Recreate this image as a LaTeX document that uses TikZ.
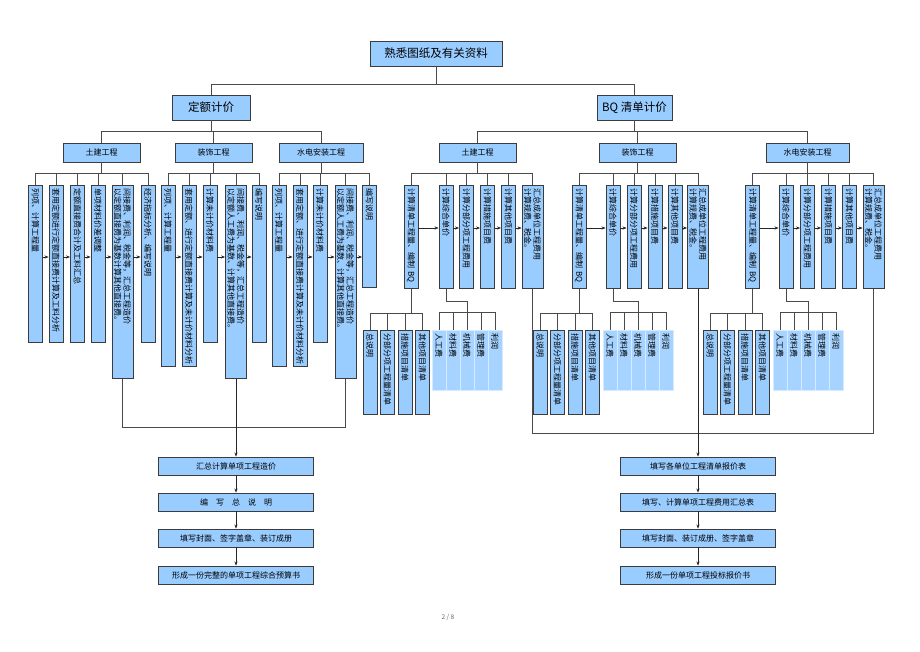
\documentclass[tikz,border=0pt]{standalone}
\usepackage{fontspec}
\setmainfont{Noto Sans CJK SC}
\usepackage{xcolor}
\usepackage{tikz}
\usetikzlibrary{arrows.meta,calc}
\definecolor{chartBlue}{HTML}{99CCFF}
\definecolor{chartBlueLight}{HTML}{A6D3FF}
\definecolor{chartEdge}{HTML}{3C3C3C}
\definecolor{chartLine}{HTML}{4A4A4A}
\tikzset{
  link/.style={draw=chartLine, line width=0.8pt},
  flow/.style={-{Stealth[length=4pt,width=3.2pt]}, line width=0.7pt, draw=black!85},
  head box/.style={draw=chartEdge, fill=chartBlue, line width=0.9pt,
    minimum height=25pt, inner sep=0pt, font=\fontsize{11.5}{13}\selectfont},
  group box/.style={draw=chartEdge, fill=chartBlue, line width=0.9pt,
    minimum height=19pt, inner sep=0pt, font=\fontsize{8}{9.5}\selectfont},
  final box/.style={group box, minimum width=155pt, minimum height=18pt},
  % rotated: west = top end, east = bottom end, north = right side, south = left side
  column/.style={draw=chartEdge, fill=chartBlue, line width=0.9pt, rotate=-90,
    anchor=west, align=left, minimum height=14pt, inner xsep=3pt,
    inner ysep=0pt, font=\fontsize{8}{9.5}\selectfont},
  wide column/.style={column, minimum height=21pt},
  cost cell/.style={column, fill=chartBlueLight, draw=chartBlueLight!45!white,
    line width=0.6pt}
}
\begin{document}
\begin{tikzpicture}[x=1pt,y=-1pt]
  \fill[white] (0,0) rectangle (920,651);
  \useasboundingbox (0,0) rectangle (920,651);

  \node[head box, minimum width=132pt] (know) at (436,53.5) {熟悉图纸及有关资料};
  \node[head box, minimum width=78pt] (quota) at (211,107.5) {定额计价};
  \node[head box, minimum width=75pt] (bq) at (634.5,107.5) {BQ 清单计价};
  \draw[link] (know.south) -- ++(0,18) -| (quota.north);
  \draw[link] (know.south) -- ++(0,18) -| (bq.north);

  \node[group box, minimum width=77pt] (qtj) at (101.5,152.5) {土建工程};
  \node[group box, minimum width=77pt] (qzs) at (213.5,152.5) {装饰工程};
  \node[group box, minimum width=84pt] (qsd) at (321,152.5) {水电安装工程};
  \node[group box, minimum width=77pt] (btj) at (477.5,152.5) {土建工程};
  \node[group box, minimum width=77pt] (bzs) at (637.5,152.5) {装饰工程};
  \node[group box, minimum width=83pt] (bsd) at (807.5,152.5) {水电安装工程};
  \foreach \g in {qtj,qzs,qsd} \draw[link] (quota.south) -- ++(0,11) -| (\g.north);
  \foreach \g in {btj,bzs,bsd} \draw[link] (bq.south) -- ++(0,11) -| (\g.north);

  % 定额计价
  \node[column, text width=151pt] (qtj1) at (35.5,185) {列项、计算工程量};
  \node[column, text width=151pt] (qtj2) at (56,185) {套用定额进行定额直接费计算及工料分析};
  \node[column, text width=151pt] (qtj3) at (77.5,185) {定额直接费合计及工料汇总};
  \node[column, text width=151pt] (qtj4) at (98,185) {单项材料价差调整};
  \node[wide column, text width=187pt] (qtj5) at (122.5,185)
    {间接费、利润、税金等，汇总工程造价\\以定额直接费为基数计算其他直接费。};
  \node[column, text width=151pt] (qtj6) at (148,185) {经济指标分析、编写说明};

  \node[column, text width=175pt] (qzs1) at (168,185) {列项、计算工程量};
  \node[column, text width=175pt] (qzs2) at (189,185) {套用定额、进行定额直接费计算及未计价材料分析};
  \node[column, text width=151pt] (qzs3) at (210,185) {计算未计价材料费};
  \node[wide column, text width=187pt] (qzs4) at (236,185)
    {间接费、利润、税金等，汇总工程造价\\以定额人工费为基数、计算其他直接费。};
  \node[column, text width=151pt] (qzs5) at (259,185) {编写说明};

  \node[column, text width=175pt] (qsd1) at (279,185) {列项、计算工程量};
  \node[column, text width=175pt] (qsd2) at (300,185) {套用定额、进行定额直接费计算及未计价材料分析};
  \node[column, text width=151pt] (qsd3) at (320,185) {计算未计价材料费};
  \node[wide column, text width=187pt] (qsd4) at (345.5,185)
    {间接费、利润、税金等，汇总工程造价\\以定额人工费为基数、计算其他直接费。};
  \node[column, text width=96pt] (qsd5) at (369.5,185) {编写说明};

  \foreach \c in {qtj1,qtj2,qtj3,qtj4,qtj5,qtj6} \draw[link] (qtj.south) -- ++(0,11) -| (\c.west);
  \foreach \c in {qzs1,qzs2,qzs3,qzs4,qzs5} \draw[link] (qzs.south) -- ++(0,11) -| (\c.west);
  \foreach \c in {qsd1,qsd2,qsd3,qsd4,qsd5} \draw[link] (qsd.south) -- ++(0,11) -| (\c.west);

  \coordinate (qrow) at (0,257);
  \foreach \a/\b in {qtj1/qtj2,qtj2/qtj3,qtj3/qtj4,qtj4/qtj5,qtj5/qtj6,
                     qzs1/qzs2,qzs2/qzs3,qzs3/qzs4,qzs4/qzs5,
                     qsd1/qsd2,qsd2/qsd3,qsd3/qsd4,qsd4/qsd5}
    \draw[flow] (\a.north |- qrow) -- (\b.south |- qrow);

  \node[final box] (qsum) at (236,466) {汇总计算单项工程造价};
  \node[final box] (qnote) at (236,502) {编\hspace{8pt}写\hspace{8pt}总\hspace{8pt}说\hspace{8pt}明};
  \node[final box] (qcover) at (236,538) {填写封面、签字盖章、装订成册};
  \node[final box] (qbook) at (236,575) {形成一份完整的单项工程综合预算书};
  \draw[link] (qtj5.east) -- ++(0,48) -| (qsd4.east);
  \draw[flow] (qzs4.east) -- (qsum.north);
  \draw[flow] (qsum) -- (qnote);
  \draw[flow] (qnote) -- (qcover);
  \draw[flow] (qcover) -- (qbook);

  % BQ 清单计价
  \node[column, text width=97pt] (btj1) at (411,185) {计算清单工程量、编制 BQ};
  \node[column, text width=97pt] (btj2) at (446,185) {计算综合单价};
  \node[column, text width=97pt] (btj3) at (466.5,185) {计算分部分项工程费用};
  \node[column, text width=97pt] (btj4) at (487.5,185) {计算措施项目费};
  \node[column, text width=97pt] (btj5) at (508.5,185) {计算其他项目费};
  \node[wide column, text width=97pt] (btj6) at (532.5,185) {汇总成单位工程费用\\计算规费、税金。};

  \node[column, text width=97pt] (bzs1) at (579,185) {计算清单工程量、编制 BQ};
  \node[column, text width=97pt] (bzs2) at (613,185) {计算综合单价};
  \node[column, text width=97pt] (bzs3) at (634,185) {计算分部分项工程费用};
  \node[column, text width=97pt] (bzs4) at (655,185) {计算措施项目费};
  \node[column, text width=97pt] (bzs5) at (675,185) {计算其他项目费};
  \node[wide column, text width=97pt] (bzs6) at (698,185) {汇总成单位工程费用\\计算规费、税金。};

  \node[column, text width=97pt] (bsd1) at (752.5,185) {计算清单工程量、编制 BQ};
  \node[column, text width=97pt] (bsd2) at (786,185) {计算综合单价};
  \node[column, text width=97pt] (bsd3) at (807.5,185) {计算分部分项工程费用};
  \node[column, text width=97pt] (bsd4) at (828.5,185) {计算措施项目费};
  \node[column, text width=97pt] (bsd5) at (849.5,185) {计算其他项目费};
  \node[wide column, text width=97pt] (bsd6) at (873.5,185) {汇总成单位工程费用\\计算规费、税金。};

  \foreach \c in {btj1,btj2,btj3,btj4,btj5,btj6} \draw[link] (btj.south) -- ++(0,11) -| (\c.west);
  \foreach \c in {bzs1,bzs2,bzs3,bzs4,bzs5,bzs6} \draw[link] (bzs.south) -- ++(0,11) -| (\c.west);
  \foreach \c in {bsd1,bsd2,bsd3,bsd4,bsd5,bsd6} \draw[link] (bsd.south) -- ++(0,11) -| (\c.west);

  \coordinate (brow) at (0,228);
  \foreach \a/\b in {btj1/btj2,btj2/btj3,btj3/btj4,btj4/btj5,btj5/btj6,
                     bzs1/bzs2,bzs2/bzs3,bzs3/bzs4,bzs4/bzs5,bzs5/bzs6,
                     bsd1/bsd2,bsd2/bsd3,bsd3/bsd4,bsd4/bsd5,bsd5/bsd6}
    \draw[flow] (\a.north |- brow) -- (\b.south |- brow);

  % lists under the BQ columns
  \node[column, text width=78pt] (tjl1) at (370,330) {总说明};
  \node[column, text width=78pt] (tjl2) at (387.5,330) {分部分项工程量清单};
  \node[column, text width=78pt] (tjl3) at (405,330) {措施项目清单};
  \node[column, text width=78pt] (tjl4) at (422.5,330) {其他项目清单};
  \node[column, text width=78pt] (zsl1) at (540,330) {总说明};
  \node[column, text width=78pt] (zsl2) at (557.5,330) {分部分项工程量清单};
  \node[column, text width=78pt] (zsl3) at (575,330) {措施项目清单};
  \node[column, text width=78pt] (zsl4) at (592.5,330) {其他项目清单};
  \node[column, text width=78pt] (sdl1) at (710,330) {总说明};
  \node[column, text width=78pt] (sdl2) at (727.5,330) {分部分项工程量清单};
  \node[column, text width=78pt] (sdl3) at (745,330) {措施项目清单};
  \node[column, text width=78pt] (sdl4) at (762.5,330) {其他项目清单};
  \foreach \c in {tjl1,tjl2,tjl3,tjl4} \draw[link] (btj1.east) -- ++(0,24) -| (\c.west);
  \foreach \c in {zsl1,zsl2,zsl3,zsl4} \draw[link] (bzs1.east) -- ++(0,24) -| (\c.west);
  \foreach \c in {sdl1,sdl2,sdl3,sdl4} \draw[link] (bsd1.east) -- ++(0,24) -| (\c.west);

  % cost parts of the unit price
  \node[cost cell, text width=54pt] (tjf1) at (439,330) {人工费};
  \node[cost cell, text width=54pt] (tjf2) at (453,330) {材料费};
  \node[cost cell, text width=54pt] (tjf3) at (467,330) {机械费};
  \node[cost cell, text width=54pt] (tjf4) at (481,330) {管理费};
  \node[cost cell, text width=54pt] (tjf5) at (495,330) {利润};
  \node[cost cell, text width=54pt] (zsf1) at (610,330) {人工费};
  \node[cost cell, text width=54pt] (zsf2) at (624,330) {材料费};
  \node[cost cell, text width=54pt] (zsf3) at (638,330) {机械费};
  \node[cost cell, text width=54pt] (zsf4) at (652,330) {管理费};
  \node[cost cell, text width=54pt] (zsf5) at (666,330) {利润};
  \node[cost cell, text width=54pt] (sdf1) at (780,330) {人工费};
  \node[cost cell, text width=54pt] (sdf2) at (794,330) {材料费};
  \node[cost cell, text width=54pt] (sdf3) at (808,330) {机械费};
  \node[cost cell, text width=54pt] (sdf4) at (822,330) {管理费};
  \node[cost cell, text width=54pt] (sdf5) at (836,330) {利润};
  \draw[link] (btj2.east) -- ++(0,12) -| (tjf3.west);
  \draw[link] (bzs2.east) -- ++(0,12) -| (zsf3.west);
  \draw[link] (bsd2.east) -- ++(0,12) -| (sdf3.west);
  \foreach \c in {tjf1,tjf2,tjf4,tjf5} \draw[link] (tjf3.west) ++(0,-18) -| (\c.west);
  \foreach \c in {zsf1,zsf2,zsf4,zsf5} \draw[link] (zsf3.west) ++(0,-18) -| (\c.west);
  \foreach \c in {sdf1,sdf2,sdf4,sdf5} \draw[link] (sdf3.west) ++(0,-18) -| (\c.west);

  \node[final box] (rlist) at (698,466) {填写各单位工程清单报价表};
  \node[final box] (rtotal) at (698,502) {填写、计算单项工程费用汇总表};
  \node[final box] (rcover) at (698,538) {填写封面、装订成册、签字盖章};
  \node[final box] (rbook) at (698,575) {形成一份单项工程投标报价书};
  \draw[link] (btj6.east) -- ++(0,144) -| (bsd6.east);
  \draw[flow] (bzs6.east) -- (rlist.north);
  \draw[flow] (rlist) -- (rtotal);
  \draw[flow] (rtotal) -- (rcover);
  \draw[flow] (rcover) -- (rbook);

  \node[font=\fontsize{6.5}{8}\selectfont, text=black!60] (page) at (448,617) {2 / 8};
\end{tikzpicture}
\end{document}
